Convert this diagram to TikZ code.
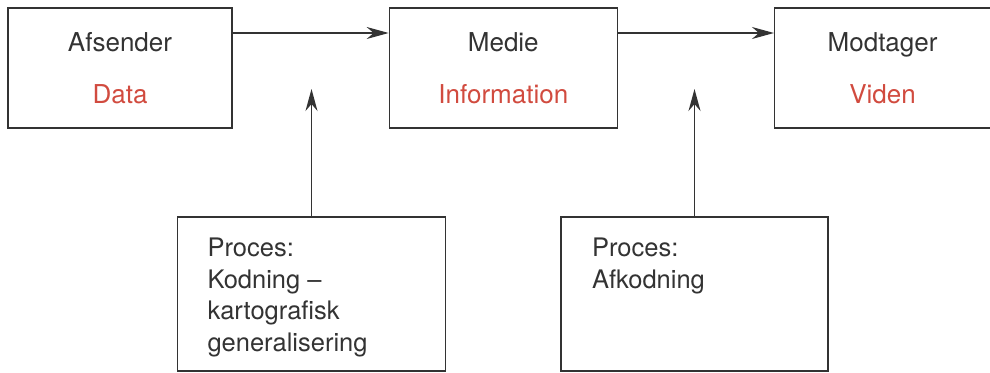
\documentclass[tikz,border=0pt]{standalone}
\usepackage{fontspec}
\setmainfont{TeX Gyre Heros}
\usetikzlibrary{positioning, arrows.meta}
\definecolor{streg}{HTML}{333333}
\definecolor{roed}{HTML}{D14B3F}
\tikzset{
  boks/.style = {draw=streg, line width=1.3pt, minimum height=120pt, inner sep=0pt,
                 align=center, font=\fontsize{26}{52}\selectfont, text=streg},
  procesboks/.style = {draw=streg, line width=1.3pt, minimum height=154pt, inner sep=0pt},
  procestekst/.style = {anchor=north west, inner sep=0pt, align=left, text=streg,
                        font=\fontsize{25.5}{31.5}\selectfont}
}
\begin{document}
\begin{tikzpicture}[x=1pt, y=-1pt, ->, >={Stealth[length=22pt, width=12pt, inset=7pt]},
                    line width=1.3pt, draw=streg]
\useasboundingbox (0,0) rectangle (990,372);
% top row
\node[boks, minimum width=224pt] (afsender) at (120,68) {Afsender\\\textcolor{roed}{Data}};
\node[boks, minimum width=228pt, right=156pt of afsender] (medie) {Medie\\\textcolor{roed}{Information}};
\node[boks, minimum width=216pt, right=156pt of medie] (modtager) {Modtager\\\textcolor{roed}{Viden}};
% processes
\node[procesboks, minimum width=268pt,
      label={[procestekst, xshift=30pt, yshift=-21pt]north west:Proces:\\Kodning –\\kartografisk\\generalisering}]
      (kodning) at (311.5,294) {};
\node[procesboks, minimum width=267pt,
      label={[procestekst, xshift=31pt, yshift=-21pt]north west:Proces:\\Afkodning}]
      (afkodning) at (694.5,294) {};
\coordinate (kodmaal) at (kodning.north |- 0,89);
\coordinate (afkodmaal) at (afkodning.north |- 0,89);
\draw ([yshift=35pt]afsender.east) -- ([yshift=35pt]medie.west);
\draw ([yshift=35pt]medie.east) -- ([yshift=35pt]modtager.west);
\draw (kodning.north) -- (kodmaal);
\draw (afkodning.north) -- (afkodmaal);
\end{tikzpicture}
\end{document}
